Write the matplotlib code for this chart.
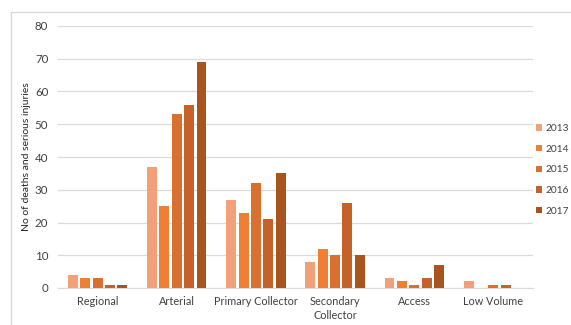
import matplotlib
matplotlib.use("Agg")
import matplotlib.pyplot as plt
from matplotlib.patches import Rectangle
import numpy as np

plt.rcParams['font.family'] = ['Lato', 'DejaVu Sans']

categories = ["Regional", "Arterial", "Primary Collector", "Secondary\nCollector", "Access", "Low Volume"]
years = ["2013", "2014", "2015", "2016", "2017"]
values_2013 = [4, 37, 27, 8, 3, 2]
values_2014 = [3, 25, 23, 12, 2, 0]
values_2015 = [3, 53, 32, 10, 1, 1]
values_2016 = [1, 56, 21, 26, 3, 1]
values_2017 = [1, 69, 35, 10, 7, 0]
series = [values_2013, values_2014, values_2015, values_2016, values_2017]
colors = ["#F2A07A", "#EE7F35", "#DA7030", "#C4622A", "#A9541F"]

fig = plt.figure(figsize=(5.71, 3.25), dpi=100)
fig.patch.set_facecolor("white")
# outer chart frame
fig.patches.append(Rectangle((11 / 571, -0.05), 1.0, 1 - 12 / 325 + 0.05,
                             transform=fig.transFigure, fill=False,
                             edgecolor="#D9D9D9", linewidth=1.0))

ax = fig.add_axes([58 / 571, 1 - 288 / 325, 475 / 571, 262 / 325])
x = np.arange(len(categories))
bar_w = 0.125
step = 0.156
for i, (vals, c, yr) in enumerate(zip(series, colors, years)):
    ax.bar(x + (i - 2) * step, vals, width=bar_w, color=c, label=yr, zorder=3)

ax.set_xlim(-0.5, len(categories) - 0.5)
ax.set_ylim(0, 80)
ax.set_yticks(np.arange(0, 81, 10))
ax.set_xticks(x)
ax.set_xticklabels(categories, fontsize=7.8, color="#404040", linespacing=1.3)
ax.tick_params(axis="y", labelsize=8.3, colors="#404040", length=0, pad=7)
ax.tick_params(axis="x", length=0, pad=6)
ax.grid(axis="y", color="#D9D9D9", linewidth=0.9, zorder=0)
for s in ["top", "right", "left"]:
    ax.spines[s].set_visible(False)
ax.spines["bottom"].set_color("#D9D9D9")
ax.set_ylabel("No of deaths and serious injuries", fontsize=7.5, color="#262626", labelpad=3)

ax.legend(loc="upper left", bbox_to_anchor=(536 / 571, 1 - 124 / 325),
          bbox_transform=fig.transFigure, frameon=False, fontsize=7.3,
          handlelength=0.6, handleheight=0.6, handletextpad=0.3,
          labelspacing=1.15, borderaxespad=0, borderpad=0,
          labelcolor="#404040")

fig.savefig("out.png", dpi=100)
